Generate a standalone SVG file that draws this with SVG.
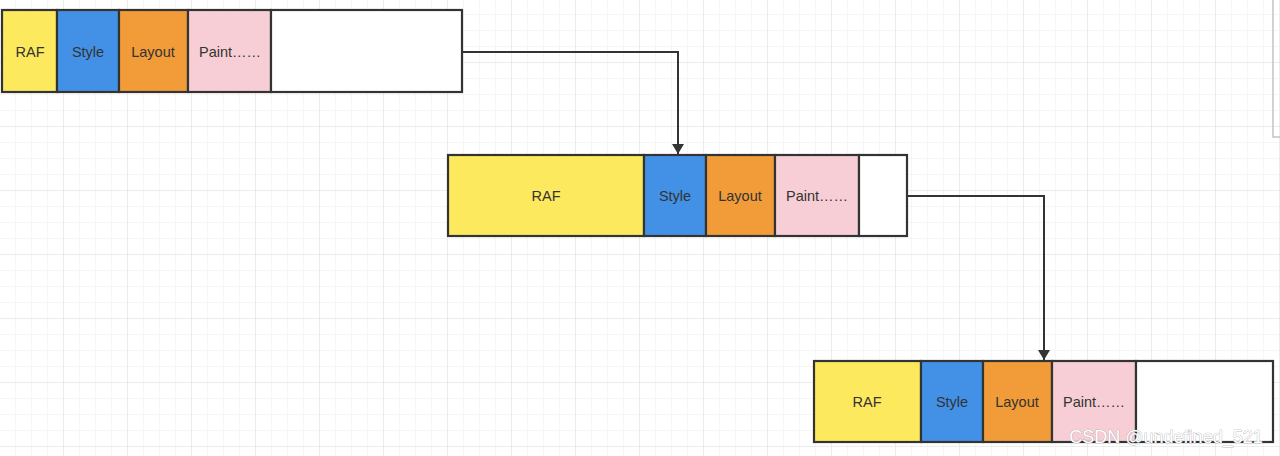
<svg xmlns="http://www.w3.org/2000/svg" width="1280" height="456" viewBox="0 0 1280 456">
<defs>
<pattern id="minor" width="16" height="16" patternUnits="userSpaceOnUse" x="0" y="-1">
<path d="M16 0V16M0 16H16" fill="none" stroke="#ececec" stroke-width="1"/>
</pattern>
<pattern id="major" width="64" height="64" patternUnits="userSpaceOnUse" x="0" y="-1">
<path d="M64 0V64M0 64H64" fill="none" stroke="#e2e2e2" stroke-width="1"/>
</pattern>
<marker id="arr" markerWidth="10" markerHeight="12" refX="10" refY="6" orient="auto" markerUnits="userSpaceOnUse">
<path d="M0 0L10 6L0 12Z" fill="#333"/>
</marker>
<style>
.seg{stroke:#333;stroke-width:2.2}
.raf{fill:#fde95e}
.sty{fill:#4291e6}
.lay{fill:#f19c38}
.pai{fill:#f7ced5}
.emp{fill:#fff}
text{font-family:"Liberation Sans",Arial,sans-serif;font-size:14.5px;fill:#333;text-anchor:middle;dominant-baseline:central}
.conn{fill:none;stroke:#333;stroke-width:2}
</style>
</defs>
<rect width="1280" height="456" fill="#fff"/>
<rect width="1280" height="456" fill="url(#minor)"/>
<rect width="1280" height="456" fill="url(#major)"/>
<path d="M1273 0V137H1280" fill="none" stroke="#c4c4c4" stroke-width="1.5"/>

<g id="frame1">
<rect class="seg raf" x="2" y="10" width="55" height="82"/>
<rect class="seg sty" x="57" y="10" width="62" height="82"/>
<rect class="seg lay" x="119" y="10" width="69" height="82"/>
<rect class="seg pai" x="188" y="10" width="83" height="82"/>
<rect class="seg emp" x="271" y="10" width="191" height="82"/>
<text x="30" y="52">RAF</text>
<text x="88" y="52">Style</text>
<text x="153" y="52">Layout</text>
<text x="230" y="52">Paint……</text>
</g>

<g id="frame2">
<rect class="seg raf" x="448" y="155" width="196" height="81"/>
<rect class="seg sty" x="644" y="155" width="62" height="81"/>
<rect class="seg lay" x="706" y="155" width="69" height="81"/>
<rect class="seg pai" x="775" y="155" width="84" height="81"/>
<rect class="seg emp" x="859" y="155" width="48" height="81"/>
<text x="546" y="196">RAF</text>
<text x="675" y="196">Style</text>
<text x="740" y="196">Layout</text>
<text x="817" y="196">Paint……</text>
</g>

<g id="frame3">
<rect class="seg raf" x="814" y="361" width="107" height="81"/>
<rect class="seg sty" x="921" y="361" width="62" height="81"/>
<rect class="seg lay" x="983" y="361" width="69" height="81"/>
<rect class="seg pai" x="1052" y="361" width="84" height="81"/>
<rect class="seg emp" x="1136" y="361" width="137" height="81"/>
<text x="867" y="402">RAF</text>
<text x="952" y="402">Style</text>
<text x="1017" y="402">Layout</text>
<text x="1094" y="402">Paint……</text>
</g>

<g id="connectors">
<path class="conn" d="M462 52H678V154" marker-end="url(#arr)"/>
<path class="conn" d="M907 196H1044V360" marker-end="url(#arr)"/>
</g>

<text x="1166" y="437" style="font-size:18px;fill:#fff;stroke:#9a9a9a;stroke-width:0.6;paint-order:stroke">CSDN @undefined_521</text>
</svg>
